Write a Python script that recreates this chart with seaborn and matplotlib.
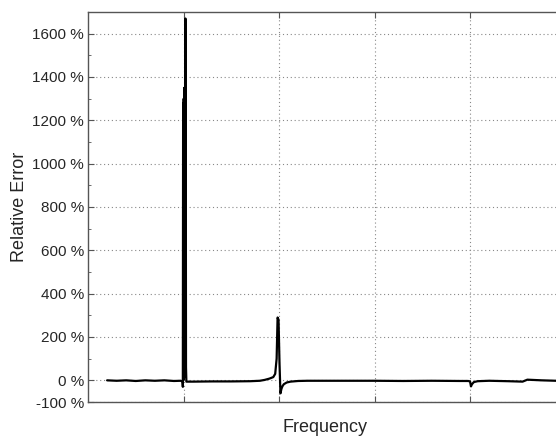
import matplotlib
matplotlib.use("Agg")
import matplotlib.pyplot as plt
import matplotlib.ticker as mticker
import seaborn as sns
import pandas as pd

# Frequency (arbitrary units; gridlines at 1,2,3,4) and relative error (%)
freq = [0.20, 0.30, 0.40, 0.50, 0.60, 0.70, 0.80, 0.90, 0.97, 0.99,
        0.993, 0.996, 0.999, 1.002, 1.005, 1.008, 1.011, 1.014, 1.017, 1.020,
        1.023, 1.026, 1.030, 1.10, 1.30, 1.50, 1.70, 1.80, 1.85, 1.90,
        1.94, 1.96, 1.975, 1.985, 1.995, 2.005, 2.015, 2.025, 2.035, 2.05,
        2.08, 2.12, 2.20, 2.30, 2.50, 2.80, 3.00, 3.30, 3.60, 3.90,
        3.98, 4.00, 4.01, 4.02, 4.04, 4.08, 4.20, 4.40, 4.55, 4.60,
        4.75, 4.90]
error = [0, -2, 0, -3, 0, -2, 0, -3, -2, -5,
         -30, 1280, 0, 1300, 10, 1350, 40, 1350, 80, 1670,
         1600, 60, -6, -6, -5, -5, -4, -2, 2, 8,
         15, 30, 100, 290, 280, 80, -60, -40, -28, -18,
         -10, -6, -3, -2, -2, -2, -2, -3, -2, -3,
         -3, -5, -28, -18, -8, -4, -2, -4, -6, 3,
         0, -2]

y_ticks = [-100] + list(range(0, 1601, 200))

df = pd.DataFrame({"Frequency": freq, "Error": error})

sns.set_style("white")
plt.rcParams["font.family"] = ["Liberation Sans", "DejaVu Sans"]

fig = plt.figure(figsize=(5.56, 4.37), dpi=100)
ax = fig.add_axes([88 / 556, 1 - 402 / 437, 1 - 88 / 556, (402 - 12) / 437])

sns.lineplot(data=df, x="Frequency", y="Error", ax=ax, color="black",
             linewidth=1.6, estimator=None, sort=False)

ax.set_xlim(0, 4.9)
ax.set_ylim(-100, 1700)
ax.set_xticks([1, 2, 3, 4])
ax.set_xticklabels([])
ax.set_yticks(y_ticks)
ax.set_yticklabels([f"{t} %" for t in y_ticks])
ax.yaxis.set_minor_locator(mticker.MultipleLocator(100))
ax.tick_params(axis="both", which="both", direction="in", top=True,
               bottom=True, left=True, right=False, color="#555555")
ax.tick_params(axis="both", which="major", length=4, labelsize=11, pad=3)
ax.tick_params(axis="y", which="minor", length=2.5)
ax.grid(True, which="major", linestyle=(0, (1, 2.5)), color="#888888",
        linewidth=0.8)
for s in ["left", "top", "bottom"]:
    ax.spines[s].set_color("#555555")
    ax.spines[s].set_linewidth(1.0)
ax.spines["right"].set_visible(False)
ax.set_xlabel("Frequency", fontsize=13)
ax.set_ylabel("Relative Error", fontsize=13)
ax.xaxis.set_label_coords((325 - 88) / (556 - 88), -(428 - 402) / 390, transform=ax.transAxes)
ax.xaxis.label.set_va("center")
ax.yaxis.set_label_coords(-(88 - 20) / 468, (402 - 207) / 390, transform=ax.transAxes)
ax.yaxis.label.set_va("center")

fig.savefig("out.png", dpi=100)
